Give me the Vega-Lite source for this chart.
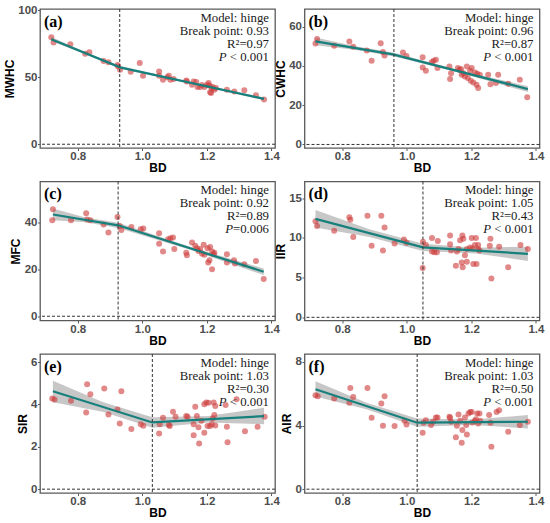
{
  "$schema": "https://vega.github.io/schema/vega-lite/v6.json",
  "background": "white",
  "padding": {"left": 2, "top": 3, "right": 3, "bottom": 0},
  "datasets": {
    "pts": [
      {"p":"a","BD":0.718,"v":79.8},{"p":"a","BD":0.725,"v":75.8},{"p":"a","BD":0.777,"v":74.6},{"p":"a","BD":0.823,"v":67.4},{"p":"a","BD":0.836,"v":68.6},{"p":"a","BD":0.880,"v":62},{"p":"a","BD":0.895,"v":61.2},{"p":"a","BD":0.923,"v":59},{"p":"a","BD":0.925,"v":58},{"p":"a","BD":0.931,"v":55.6},{"p":"a","BD":0.964,"v":54},{"p":"a","BD":0.992,"v":60.5},{"p":"a","BD":1.002,"v":51},{"p":"a","BD":1.052,"v":54.3},{"p":"a","BD":1.052,"v":51},{"p":"a","BD":1.064,"v":48},{"p":"a","BD":1.077,"v":50},{"p":"a","BD":1.082,"v":51},{"p":"a","BD":1.087,"v":48},{"p":"a","BD":1.097,"v":48.6},{"p":"a","BD":1.136,"v":47.6},{"p":"a","BD":1.138,"v":46.7},{"p":"a","BD":1.154,"v":44.4},{"p":"a","BD":1.159,"v":46.7},{"p":"a","BD":1.167,"v":46.4},{"p":"a","BD":1.171,"v":42.7},{"p":"a","BD":1.179,"v":42.7},{"p":"a","BD":1.185,"v":44.2},{"p":"a","BD":1.192,"v":42.7},{"p":"a","BD":1.2,"v":44.2},{"p":"a","BD":1.205,"v":45.7},{"p":"a","BD":1.208,"v":43.7},{"p":"a","BD":1.21,"v":38.8},{"p":"a","BD":1.213,"v":38.2},{"p":"a","BD":1.215,"v":41.7},{"p":"a","BD":1.218,"v":42.7},{"p":"a","BD":1.223,"v":40.7},{"p":"a","BD":1.228,"v":42},{"p":"a","BD":1.262,"v":40.7},{"p":"a","BD":1.285,"v":39.3},{"p":"a","BD":1.316,"v":40.2},{"p":"a","BD":1.352,"v":36.5},{"p":"a","BD":1.377,"v":33.3},
      {"p":"b","BD":0.717,"v":51.4},{"p":"b","BD":0.722,"v":53.7},{"p":"b","BD":0.775,"v":50.3},{"p":"b","BD":0.822,"v":52.5},{"p":"b","BD":0.834,"v":49.8},{"p":"b","BD":0.876,"v":47.8},{"p":"b","BD":0.891,"v":42.7},{"p":"b","BD":0.919,"v":51.5},{"p":"b","BD":0.926,"v":47.1},{"p":"b","BD":0.931,"v":45.3},{"p":"b","BD":0.988,"v":46.8},{"p":"b","BD":0.999,"v":45.1},{"p":"b","BD":1.049,"v":44.4},{"p":"b","BD":1.049,"v":39.2},{"p":"b","BD":1.059,"v":37.5},{"p":"b","BD":1.077,"v":41.9},{"p":"b","BD":1.083,"v":42.6},{"p":"b","BD":1.09,"v":43.1},{"p":"b","BD":1.095,"v":38.9},{"p":"b","BD":1.132,"v":39.7},{"p":"b","BD":1.134,"v":33.4},{"p":"b","BD":1.137,"v":36.3},{"p":"b","BD":1.158,"v":38.9},{"p":"b","BD":1.163,"v":38},{"p":"b","BD":1.168,"v":38.5},{"p":"b","BD":1.17,"v":35.5},{"p":"b","BD":1.175,"v":36.3},{"p":"b","BD":1.18,"v":34.6},{"p":"b","BD":1.186,"v":39.7},{"p":"b","BD":1.189,"v":33.8},{"p":"b","BD":1.196,"v":37.5},{"p":"b","BD":1.201,"v":38.9},{"p":"b","BD":1.198,"v":32.4},{"p":"b","BD":1.206,"v":31.6},{"p":"b","BD":1.211,"v":36.7},{"p":"b","BD":1.216,"v":30.4},{"p":"b","BD":1.218,"v":36},{"p":"b","BD":1.221,"v":28.7},{"p":"b","BD":1.226,"v":35.5},{"p":"b","BD":1.252,"v":35.5},{"p":"b","BD":1.259,"v":30.7},{"p":"b","BD":1.276,"v":31.3},{"p":"b","BD":1.283,"v":35.5},{"p":"b","BD":1.314,"v":30.9},{"p":"b","BD":1.35,"v":32.9},{"p":"b","BD":1.373,"v":24},
      {"p":"c","BD":0.723,"v":45.4},{"p":"c","BD":0.721,"v":40.8},{"p":"c","BD":0.779,"v":40.8},{"p":"c","BD":0.826,"v":43.7},{"p":"c","BD":0.829,"v":41.1},{"p":"c","BD":0.839,"v":40.8},{"p":"c","BD":0.88,"v":39},{"p":"c","BD":0.895,"v":35.5},{"p":"c","BD":0.923,"v":42.1},{"p":"c","BD":0.93,"v":38.3},{"p":"c","BD":0.935,"v":36.6},{"p":"c","BD":0.966,"v":37.9},{"p":"c","BD":0.995,"v":36.9},{"p":"c","BD":1.003,"v":37.2},{"p":"c","BD":1.052,"v":35.2},{"p":"c","BD":1.052,"v":30.8},{"p":"c","BD":1.064,"v":27.5},{"p":"c","BD":1.08,"v":32.7},{"p":"c","BD":1.087,"v":33.1},{"p":"c","BD":1.095,"v":33.4},{"p":"c","BD":1.099,"v":28.5},{"p":"c","BD":1.136,"v":27},{"p":"c","BD":1.138,"v":25.9},{"p":"c","BD":1.154,"v":31.3},{"p":"c","BD":1.164,"v":29.9},{"p":"c","BD":1.169,"v":28.9},{"p":"c","BD":1.174,"v":27.7},{"p":"c","BD":1.179,"v":28.5},{"p":"c","BD":1.185,"v":26.6},{"p":"c","BD":1.19,"v":30.3},{"p":"c","BD":1.192,"v":26.1},{"p":"c","BD":1.202,"v":28.9},{"p":"c","BD":1.204,"v":22.8},{"p":"c","BD":1.208,"v":23.8},{"p":"c","BD":1.21,"v":29.4},{"p":"c","BD":1.216,"v":27.5},{"p":"c","BD":1.221,"v":26.3},{"p":"c","BD":1.216,"v":20},{"p":"c","BD":1.223,"v":27},{"p":"c","BD":1.262,"v":26.3},{"p":"c","BD":1.262,"v":22.8},{"p":"c","BD":1.284,"v":23.8},{"p":"c","BD":1.287,"v":22.4},{"p":"c","BD":1.316,"v":22.1},{"p":"c","BD":1.352,"v":23.5},{"p":"c","BD":1.376,"v":15.8},
      {"p":"d","BD":0.717,"v":12.1},{"p":"d","BD":0.722,"v":11.5},{"p":"d","BD":0.775,"v":10.9},{"p":"d","BD":0.822,"v":12.6},{"p":"d","BD":0.825,"v":12.3},{"p":"d","BD":0.834,"v":10.1},{"p":"d","BD":0.878,"v":12.8},{"p":"d","BD":0.891,"v":9},{"p":"d","BD":0.921,"v":12.8},{"p":"d","BD":0.926,"v":8.4},{"p":"d","BD":0.931,"v":11.3},{"p":"d","BD":0.962,"v":9.3},{"p":"d","BD":0.991,"v":9.8},{"p":"d","BD":0.999,"v":9.4},{"p":"d","BD":1.049,"v":6.2},{"p":"d","BD":1.05,"v":9.5},{"p":"d","BD":1.059,"v":9.1},{"p":"d","BD":1.078,"v":10},{"p":"d","BD":1.078,"v":8.3},{"p":"d","BD":1.085,"v":8.2},{"p":"d","BD":1.093,"v":8.2},{"p":"d","BD":1.096,"v":9.6},{"p":"d","BD":1.134,"v":10.3},{"p":"d","BD":1.134,"v":9.2},{"p":"d","BD":1.137,"v":8.4},{"p":"d","BD":1.152,"v":6.5},{"p":"d","BD":1.155,"v":8.3},{"p":"d","BD":1.16,"v":8.6},{"p":"d","BD":1.165,"v":9.7},{"p":"d","BD":1.172,"v":10.3},{"p":"d","BD":1.17,"v":6.9},{"p":"d","BD":1.173,"v":6.3},{"p":"d","BD":1.175,"v":9.9},{"p":"d","BD":1.18,"v":7.8},{"p":"d","BD":1.186,"v":7},{"p":"d","BD":1.186,"v":8.6},{"p":"d","BD":1.196,"v":8.8},{"p":"d","BD":1.201,"v":10},{"p":"d","BD":1.203,"v":8.7},{"p":"d","BD":1.206,"v":6.7},{"p":"d","BD":1.211,"v":9.1},{"p":"d","BD":1.214,"v":10},{"p":"d","BD":1.216,"v":6.7},{"p":"d","BD":1.221,"v":8.6},{"p":"d","BD":1.221,"v":9.1},{"p":"d","BD":1.225,"v":8.4},{"p":"d","BD":1.257,"v":9},{"p":"d","BD":1.259,"v":9.9},{"p":"d","BD":1.262,"v":4.9},{"p":"d","BD":1.286,"v":8.9},{"p":"d","BD":1.314,"v":6.3},{"p":"d","BD":1.352,"v":9.1},{"p":"d","BD":1.375,"v":8.6},
      {"p":"e","BD":0.721,"v":4.28},{"p":"e","BD":0.728,"v":4.23},{"p":"e","BD":0.779,"v":4.17},{"p":"e","BD":0.826,"v":3.62},{"p":"e","BD":0.829,"v":4.95},{"p":"e","BD":0.839,"v":4.48},{"p":"e","BD":0.882,"v":4.75},{"p":"e","BD":0.895,"v":3.53},{"p":"e","BD":0.923,"v":3.76},{"p":"e","BD":0.93,"v":3.1},{"p":"e","BD":0.935,"v":4.62},{"p":"e","BD":0.966,"v":2.84},{"p":"e","BD":0.995,"v":3.07},{"p":"e","BD":1.003,"v":2.99},{"p":"e","BD":1.052,"v":2.63},{"p":"e","BD":1.054,"v":3.06},{"p":"e","BD":1.064,"v":3.37},{"p":"e","BD":1.082,"v":3.03},{"p":"e","BD":1.085,"v":2.98},{"p":"e","BD":1.095,"v":3.65},{"p":"e","BD":1.103,"v":3.42},{"p":"e","BD":1.136,"v":3.45},{"p":"e","BD":1.14,"v":3.42},{"p":"e","BD":1.159,"v":3.06},{"p":"e","BD":1.159,"v":2.55},{"p":"e","BD":1.164,"v":3.89},{"p":"e","BD":1.169,"v":3.45},{"p":"e","BD":1.174,"v":2.92},{"p":"e","BD":1.176,"v":2.16},{"p":"e","BD":1.183,"v":3.23},{"p":"e","BD":1.192,"v":2.66},{"p":"e","BD":1.192,"v":4.01},{"p":"e","BD":1.198,"v":4.09},{"p":"e","BD":1.205,"v":4.08},{"p":"e","BD":1.202,"v":2.98},{"p":"e","BD":1.21,"v":2.98},{"p":"e","BD":1.215,"v":3.07},{"p":"e","BD":1.218,"v":3.34},{"p":"e","BD":1.221,"v":4.09},{"p":"e","BD":1.226,"v":3.93},{"p":"e","BD":1.223,"v":3.5},{"p":"e","BD":1.226,"v":3},{"p":"e","BD":1.258,"v":3.97},{"p":"e","BD":1.262,"v":2.95},{"p":"e","BD":1.264,"v":2.21},{"p":"e","BD":1.292,"v":4.25},{"p":"e","BD":1.318,"v":2.74},{"p":"e","BD":1.357,"v":2.95},{"p":"e","BD":1.379,"v":3.42},
      {"p":"f","BD":0.717,"v":5.91},{"p":"f","BD":0.724,"v":5.85},{"p":"f","BD":0.775,"v":5.7},{"p":"f","BD":0.822,"v":5.43},{"p":"f","BD":0.825,"v":6.37},{"p":"f","BD":0.834,"v":5.8},{"p":"f","BD":0.878,"v":6.37},{"p":"f","BD":0.891,"v":4.49},{"p":"f","BD":0.921,"v":5.39},{"p":"f","BD":0.926,"v":3.99},{"p":"f","BD":0.931,"v":5.85},{"p":"f","BD":0.962,"v":3.97},{"p":"f","BD":0.993,"v":4.3},{"p":"f","BD":0.999,"v":4.07},{"p":"f","BD":1.049,"v":3.55},{"p":"f","BD":1.052,"v":4.18},{"p":"f","BD":1.059,"v":4.34},{"p":"f","BD":1.075,"v":4.03},{"p":"f","BD":1.081,"v":4.24},{"p":"f","BD":1.09,"v":4.51},{"p":"f","BD":1.095,"v":4.51},{"p":"f","BD":1.132,"v":4.55},{"p":"f","BD":1.134,"v":4.49},{"p":"f","BD":1.137,"v":4.24},{"p":"f","BD":1.152,"v":3.26},{"p":"f","BD":1.155,"v":3.99},{"p":"f","BD":1.16,"v":4.7},{"p":"f","BD":1.165,"v":4.3},{"p":"f","BD":1.17,"v":2.92},{"p":"f","BD":1.172,"v":3.72},{"p":"f","BD":1.18,"v":4.51},{"p":"f","BD":1.184,"v":4.03},{"p":"f","BD":1.186,"v":3.44},{"p":"f","BD":1.191,"v":4.76},{"p":"f","BD":1.196,"v":4.86},{"p":"f","BD":1.201,"v":4.86},{"p":"f","BD":1.203,"v":4.2},{"p":"f","BD":1.211,"v":4.3},{"p":"f","BD":1.214,"v":4.4},{"p":"f","BD":1.218,"v":4.76},{"p":"f","BD":1.221,"v":4.13},{"p":"f","BD":1.225,"v":4.76},{"p":"f","BD":1.227,"v":4.3},{"p":"f","BD":1.255,"v":4.66},{"p":"f","BD":1.259,"v":4.18},{"p":"f","BD":1.262,"v":2.67},{"p":"f","BD":1.278,"v":4.86},{"p":"f","BD":1.286,"v":4.97},{"p":"f","BD":1.314,"v":3.61},{"p":"f","BD":1.35,"v":4.03},{"p":"f","BD":1.375,"v":4.24}
    ],
    "fit": [
      {"p":"a","BD":0.718,"v":78.3},{"p":"a","BD":0.931,"v":57.3},{"p":"a","BD":1.377,"v":33.8},
      {"p":"b","BD":0.717,"v":52.5},{"p":"b","BD":0.957,"v":45.9},{"p":"b","BD":1.375,"v":28.2},
      {"p":"c","BD":0.723,"v":43.2},{"p":"c","BD":0.925,"v":38.6},{"p":"c","BD":1.376,"v":18.9},
      {"p":"d","BD":0.717,"v":12.4},{"p":"d","BD":1.05,"v":8.8},{"p":"d","BD":1.375,"v":8.0},
      {"p":"e","BD":0.723,"v":4.62},{"p":"e","BD":1.031,"v":3.15},{"p":"e","BD":1.377,"v":3.45},
      {"p":"f","BD":0.717,"v":6.28},{"p":"f","BD":1.032,"v":4.18},{"p":"f","BD":1.375,"v":4.24}
    ],
    "band": [
      {"p":"a","BD":0.718,"lo":76.7,"hi":79.9},{"p":"a","BD":0.825,"lo":67.0,"hi":68.5},{"p":"a","BD":0.931,"lo":56.3,"hi":58.3},{"p":"a","BD":1.154,"lo":45.0,"hi":46.1},{"p":"a","BD":1.377,"lo":32.8,"hi":34.8},
      {"p":"b","BD":0.717,"lo":50.5,"hi":54.5},{"p":"b","BD":0.837,"lo":48.3,"hi":50.1},{"p":"b","BD":0.957,"lo":44.9,"hi":46.9},{"p":"b","BD":1.166,"lo":36.45,"hi":37.65},{"p":"b","BD":1.375,"lo":26.7,"hi":29.7},
      {"p":"c","BD":0.723,"lo":40.7,"hi":45.7},{"p":"c","BD":0.824,"lo":39.9,"hi":41.9},{"p":"c","BD":0.925,"lo":37.5,"hi":39.7},{"p":"c","BD":1.15,"lo":28.15,"hi":29.35},{"p":"c","BD":1.376,"lo":17.5,"hi":20.3},
      {"p":"d","BD":0.717,"lo":11.3,"hi":13.5},{"p":"d","BD":0.884,"lo":10.1,"hi":11.1},{"p":"d","BD":1.05,"lo":8.35,"hi":9.25},{"p":"d","BD":1.213,"lo":8.05,"hi":8.75},{"p":"d","BD":1.375,"lo":7.1,"hi":8.9},
      {"p":"e","BD":0.723,"lo":4.1,"hi":5.12},{"p":"e","BD":0.877,"lo":3.65,"hi":4.12},{"p":"e","BD":1.031,"lo":2.9,"hi":3.4},{"p":"e","BD":1.204,"lo":3.15,"hi":3.45},{"p":"e","BD":1.377,"lo":3.07,"hi":3.84},
      {"p":"f","BD":0.717,"lo":5.83,"hi":6.78},{"p":"f","BD":0.875,"lo":5.03,"hi":5.43},{"p":"f","BD":1.032,"lo":3.93,"hi":4.45},{"p":"f","BD":1.204,"lo":4.04,"hi":4.38},{"p":"f","BD":1.375,"lo":3.82,"hi":4.66}
    ],
    "ann": [
      {"p":"a","tag":"(a)","bp":0.93,"l1":"Model: hinge","l2":"Break point: 0.93","l3":"R²=0.97","pv":" < 0.001"},
      {"p":"b","tag":"(b)","bp":0.96,"l1":"Model: hinge","l2":"Break point: 0.96","l3":"R²=0.87","pv":" < 0.001"},
      {"p":"c","tag":"(c)","bp":0.925,"l1":"Model: hinge","l2":"Break point: 0.92","l3":"R²=0.89","pv":"=0.006"},
      {"p":"d","tag":"(d)","bp":1.05,"l1":"Model: hinge","l2":"Break point: 1.05","l3":"R²=0.43","pv":" < 0.001"},
      {"p":"e","tag":"(e)","bp":1.031,"l1":"Model: hinge","l2":"Break point: 1.03","l3":"R²=0.30","pv":" < 0.001"},
      {"p":"f","tag":"(f)","bp":1.032,"l1":"Model: hinge","l2":"Break point: 1.03","l3":"R²=0.50","pv":" < 0.001"}
    ]
  },
  "columns": 2,
  "spacing": {"row": 33.5, "column": 29.5},
  "bounds": "flush",
  "concat": [
    {
      "width": 235, "height": 139,
      "layer": [
        {"data": {"name": "band"}, "transform": [{"filter": "datum.p === 'a'"}],
         "mark": {"type": "area", "color": "#999999", "opacity": 0.55},
         "encoding": {
           "x": {"field": "BD", "type": "quantitative", "scale": {"domain": [0.683, 1.411], "nice": false, "zero": false}, "axis": {"title": "BD", "values": [0.8, 1.0, 1.2, 1.4], "format": ".1f"}},
           "y": {"field": "lo", "type": "quantitative", "scale": {"domain": [-2.8, 100.8], "nice": false, "zero": false}, "axis": {"title": "MWHC", "values": [0, 25, 50, 75, 100]}},
           "y2": {"field": "hi"}}},
        {"data": {"name": "pts"}, "transform": [{"filter": "datum.p === 'a'"}],
         "mark": {"type": "circle", "size": 36, "color": "#cd3a3a", "opacity": 0.6},
         "encoding": {"x": {"field": "BD", "type": "quantitative"}, "y": {"field": "v", "type": "quantitative"}}},
        {"data": {"name": "fit"}, "transform": [{"filter": "datum.p === 'a'"}],
         "mark": {"type": "line", "color": "#18807c", "strokeWidth": 2.2},
         "encoding": {"x": {"field": "BD", "type": "quantitative"}, "y": {"field": "v", "type": "quantitative"}}},
        {"data": {"name": "ann"}, "transform": [{"filter": "datum.p === 'a'"}],
         "mark": {"type": "rule", "color": "#333333", "strokeWidth": 1, "strokeDash": [3, 2]},
         "encoding": {"x": {"field": "bp", "type": "quantitative"}}},
        {"data": {"name": "ann"}, "transform": [{"filter": "datum.p === 'a'"}],
         "mark": {"type": "rule", "color": "#333333", "strokeWidth": 1, "strokeDash": [3, 2]},
         "encoding": {"y": {"datum": 0}}},
        {"data": {"name": "ann"}, "transform": [{"filter": "datum.p === 'a'"}],
         "mark": {"type": "text", "font": "Liberation Serif", "fontWeight": "bold", "fontSize": 16, "align": "left", "baseline": "alphabetic", "dx": 4, "dy": 17.5, "color": "#000000"},
         "encoding": {"x": {"datum": 0.683}, "y": {"datum": 100.8}, "text": {"field": "tag"}}},
        {"data": {"name": "ann"}, "transform": [{"filter": "datum.p === 'a'"}],
         "mark": {"type": "text", "font": "Liberation Serif", "fontSize": 12.8, "align": "right", "baseline": "alphabetic", "dx": -6, "dy": 12.5, "color": "#1a1a1a"},
         "encoding": {"x": {"datum": 1.411}, "y": {"datum": 100.8}, "text": {"field": "l1"}}},
        {"data": {"name": "ann"}, "transform": [{"filter": "datum.p === 'a'"}],
         "mark": {"type": "text", "font": "Liberation Serif", "fontSize": 12.8, "align": "right", "baseline": "alphabetic", "dx": -6, "dy": 25.6, "color": "#1a1a1a"},
         "encoding": {"x": {"datum": 1.411}, "y": {"datum": 100.8}, "text": {"field": "l2"}}},
        {"data": {"name": "ann"}, "transform": [{"filter": "datum.p === 'a'"}],
         "mark": {"type": "text", "font": "Liberation Serif", "fontSize": 12.8, "align": "right", "baseline": "alphabetic", "dx": -6, "dy": 38.7, "color": "#1a1a1a"},
         "encoding": {"x": {"datum": 1.411}, "y": {"datum": 100.8}, "text": {"field": "l3"}}},
        {"data": {"name": "ann"}, "transform": [{"filter": "datum.p === 'a'"}],
         "mark": {"type": "text", "font": "Liberation Serif", "fontSize": 12.8, "align": "right", "baseline": "alphabetic", "dx": -6, "dy": 51.8, "color": "#1a1a1a"},
         "encoding": {"x": {"datum": 1.411}, "y": {"datum": 100.8}, "text": {"field": "pv"}}},
        {"data": {"name": "ann"}, "transform": [{"filter": "datum.p === 'a'"}],
         "mark": {"type": "text", "font": "Liberation Serif", "fontStyle": "italic", "fontSize": 12.8, "align": "right", "baseline": "alphabetic", "dx": -48.4, "dy": 51.8, "color": "#1a1a1a", "text": "P"},
         "encoding": {"x": {"datum": 1.411}, "y": {"datum": 100.8}}}
      ]
    },
    {
      "width": 235, "height": 139,
      "layer": [
        {"data": {"name": "band"}, "transform": [{"filter": "datum.p === 'b'"}],
         "mark": {"type": "area", "color": "#999999", "opacity": 0.55},
         "encoding": {
           "x": {"field": "BD", "type": "quantitative", "scale": {"domain": [0.683, 1.411], "nice": false, "zero": false}, "axis": {"title": "BD", "values": [0.8, 1.0, 1.2, 1.4], "format": ".1f"}},
           "y": {"field": "lo", "type": "quantitative", "scale": {"domain": [-1.8, 69], "nice": false, "zero": false}, "axis": {"title": "CWHC", "values": [0, 20, 40, 60]}},
           "y2": {"field": "hi"}}},
        {"data": {"name": "pts"}, "transform": [{"filter": "datum.p === 'b'"}],
         "mark": {"type": "circle", "size": 36, "color": "#cd3a3a", "opacity": 0.6},
         "encoding": {"x": {"field": "BD", "type": "quantitative"}, "y": {"field": "v", "type": "quantitative"}}},
        {"data": {"name": "fit"}, "transform": [{"filter": "datum.p === 'b'"}],
         "mark": {"type": "line", "color": "#18807c", "strokeWidth": 2.2},
         "encoding": {"x": {"field": "BD", "type": "quantitative"}, "y": {"field": "v", "type": "quantitative"}}},
        {"data": {"name": "ann"}, "transform": [{"filter": "datum.p === 'b'"}],
         "mark": {"type": "rule", "color": "#333333", "strokeWidth": 1, "strokeDash": [3, 2]},
         "encoding": {"x": {"field": "bp", "type": "quantitative"}}},
        {"data": {"name": "ann"}, "transform": [{"filter": "datum.p === 'b'"}],
         "mark": {"type": "rule", "color": "#333333", "strokeWidth": 1, "strokeDash": [3, 2]},
         "encoding": {"y": {"datum": 0}}},
        {"data": {"name": "ann"}, "transform": [{"filter": "datum.p === 'b'"}],
         "mark": {"type": "text", "font": "Liberation Serif", "fontWeight": "bold", "fontSize": 16, "align": "left", "baseline": "alphabetic", "dx": 4, "dy": 17.5, "color": "#000000"},
         "encoding": {"x": {"datum": 0.683}, "y": {"datum": 69}, "text": {"field": "tag"}}},
        {"data": {"name": "ann"}, "transform": [{"filter": "datum.p === 'b'"}],
         "mark": {"type": "text", "font": "Liberation Serif", "fontSize": 12.8, "align": "right", "baseline": "alphabetic", "dx": -6, "dy": 12.5, "color": "#1a1a1a"},
         "encoding": {"x": {"datum": 1.411}, "y": {"datum": 69}, "text": {"field": "l1"}}},
        {"data": {"name": "ann"}, "transform": [{"filter": "datum.p === 'b'"}],
         "mark": {"type": "text", "font": "Liberation Serif", "fontSize": 12.8, "align": "right", "baseline": "alphabetic", "dx": -6, "dy": 25.6, "color": "#1a1a1a"},
         "encoding": {"x": {"datum": 1.411}, "y": {"datum": 69}, "text": {"field": "l2"}}},
        {"data": {"name": "ann"}, "transform": [{"filter": "datum.p === 'b'"}],
         "mark": {"type": "text", "font": "Liberation Serif", "fontSize": 12.8, "align": "right", "baseline": "alphabetic", "dx": -6, "dy": 38.7, "color": "#1a1a1a"},
         "encoding": {"x": {"datum": 1.411}, "y": {"datum": 69}, "text": {"field": "l3"}}},
        {"data": {"name": "ann"}, "transform": [{"filter": "datum.p === 'b'"}],
         "mark": {"type": "text", "font": "Liberation Serif", "fontSize": 12.8, "align": "right", "baseline": "alphabetic", "dx": -6, "dy": 51.8, "color": "#1a1a1a"},
         "encoding": {"x": {"datum": 1.411}, "y": {"datum": 69}, "text": {"field": "pv"}}},
        {"data": {"name": "ann"}, "transform": [{"filter": "datum.p === 'b'"}],
         "mark": {"type": "text", "font": "Liberation Serif", "fontStyle": "italic", "fontSize": 12.8, "align": "right", "baseline": "alphabetic", "dx": -48.4, "dy": 51.8, "color": "#1a1a1a", "text": "P"},
         "encoding": {"x": {"datum": 1.411}, "y": {"datum": 69}}}
      ]
    },
    {
      "width": 235, "height": 139,
      "layer": [
        {"data": {"name": "band"}, "transform": [{"filter": "datum.p === 'c'"}],
         "mark": {"type": "area", "color": "#999999", "opacity": 0.55},
         "encoding": {
           "x": {"field": "BD", "type": "quantitative", "scale": {"domain": [0.683, 1.411], "nice": false, "zero": false}, "axis": {"title": "BD", "values": [0.8, 1.0, 1.2, 1.4], "format": ".1f"}},
           "y": {"field": "lo", "type": "quantitative", "scale": {"domain": [-1.8, 57.2], "nice": false, "zero": false}, "axis": {"title": "MFC", "values": [0, 20, 40]}},
           "y2": {"field": "hi"}}},
        {"data": {"name": "pts"}, "transform": [{"filter": "datum.p === 'c'"}],
         "mark": {"type": "circle", "size": 36, "color": "#cd3a3a", "opacity": 0.6},
         "encoding": {"x": {"field": "BD", "type": "quantitative"}, "y": {"field": "v", "type": "quantitative"}}},
        {"data": {"name": "fit"}, "transform": [{"filter": "datum.p === 'c'"}],
         "mark": {"type": "line", "color": "#18807c", "strokeWidth": 2.2},
         "encoding": {"x": {"field": "BD", "type": "quantitative"}, "y": {"field": "v", "type": "quantitative"}}},
        {"data": {"name": "ann"}, "transform": [{"filter": "datum.p === 'c'"}],
         "mark": {"type": "rule", "color": "#333333", "strokeWidth": 1, "strokeDash": [3, 2]},
         "encoding": {"x": {"field": "bp", "type": "quantitative"}}},
        {"data": {"name": "ann"}, "transform": [{"filter": "datum.p === 'c'"}],
         "mark": {"type": "rule", "color": "#333333", "strokeWidth": 1, "strokeDash": [3, 2]},
         "encoding": {"y": {"datum": 0}}},
        {"data": {"name": "ann"}, "transform": [{"filter": "datum.p === 'c'"}],
         "mark": {"type": "text", "font": "Liberation Serif", "fontWeight": "bold", "fontSize": 16, "align": "left", "baseline": "alphabetic", "dx": 4, "dy": 17.5, "color": "#000000"},
         "encoding": {"x": {"datum": 0.683}, "y": {"datum": 57.2}, "text": {"field": "tag"}}},
        {"data": {"name": "ann"}, "transform": [{"filter": "datum.p === 'c'"}],
         "mark": {"type": "text", "font": "Liberation Serif", "fontSize": 12.8, "align": "right", "baseline": "alphabetic", "dx": -6, "dy": 12.5, "color": "#1a1a1a"},
         "encoding": {"x": {"datum": 1.411}, "y": {"datum": 57.2}, "text": {"field": "l1"}}},
        {"data": {"name": "ann"}, "transform": [{"filter": "datum.p === 'c'"}],
         "mark": {"type": "text", "font": "Liberation Serif", "fontSize": 12.8, "align": "right", "baseline": "alphabetic", "dx": -6, "dy": 25.6, "color": "#1a1a1a"},
         "encoding": {"x": {"datum": 1.411}, "y": {"datum": 57.2}, "text": {"field": "l2"}}},
        {"data": {"name": "ann"}, "transform": [{"filter": "datum.p === 'c'"}],
         "mark": {"type": "text", "font": "Liberation Serif", "fontSize": 12.8, "align": "right", "baseline": "alphabetic", "dx": -6, "dy": 38.7, "color": "#1a1a1a"},
         "encoding": {"x": {"datum": 1.411}, "y": {"datum": 57.2}, "text": {"field": "l3"}}},
        {"data": {"name": "ann"}, "transform": [{"filter": "datum.p === 'c'"}],
         "mark": {"type": "text", "font": "Liberation Serif", "fontSize": 12.8, "align": "right", "baseline": "alphabetic", "dx": -6, "dy": 51.8, "color": "#1a1a1a"},
         "encoding": {"x": {"datum": 1.411}, "y": {"datum": 57.2}, "text": {"field": "pv"}}},
        {"data": {"name": "ann"}, "transform": [{"filter": "datum.p === 'c'"}],
         "mark": {"type": "text", "font": "Liberation Serif", "fontStyle": "italic", "fontSize": 12.8, "align": "right", "baseline": "alphabetic", "dx": -42, "dy": 51.8, "color": "#1a1a1a", "text": "P"},
         "encoding": {"x": {"datum": 1.411}, "y": {"datum": 57.2}}}
      ]
    },
    {
      "width": 235, "height": 139,
      "layer": [
        {"data": {"name": "band"}, "transform": [{"filter": "datum.p === 'd'"}],
         "mark": {"type": "area", "color": "#999999", "opacity": 0.55},
         "encoding": {
           "x": {"field": "BD", "type": "quantitative", "scale": {"domain": [0.683, 1.411], "nice": false, "zero": false}, "axis": {"title": "BD", "values": [0.8, 1.0, 1.2, 1.4], "format": ".1f"}},
           "y": {"field": "lo", "type": "quantitative", "scale": {"domain": [-0.4, 17.1], "nice": false, "zero": false}, "axis": {"title": "IIR", "values": [0, 5, 10, 15]}},
           "y2": {"field": "hi"}}},
        {"data": {"name": "pts"}, "transform": [{"filter": "datum.p === 'd'"}],
         "mark": {"type": "circle", "size": 36, "color": "#cd3a3a", "opacity": 0.6},
         "encoding": {"x": {"field": "BD", "type": "quantitative"}, "y": {"field": "v", "type": "quantitative"}}},
        {"data": {"name": "fit"}, "transform": [{"filter": "datum.p === 'd'"}],
         "mark": {"type": "line", "color": "#18807c", "strokeWidth": 2.2},
         "encoding": {"x": {"field": "BD", "type": "quantitative"}, "y": {"field": "v", "type": "quantitative"}}},
        {"data": {"name": "ann"}, "transform": [{"filter": "datum.p === 'd'"}],
         "mark": {"type": "rule", "color": "#333333", "strokeWidth": 1, "strokeDash": [3, 2]},
         "encoding": {"x": {"field": "bp", "type": "quantitative"}}},
        {"data": {"name": "ann"}, "transform": [{"filter": "datum.p === 'd'"}],
         "mark": {"type": "rule", "color": "#333333", "strokeWidth": 1, "strokeDash": [3, 2]},
         "encoding": {"y": {"datum": 0}}},
        {"data": {"name": "ann"}, "transform": [{"filter": "datum.p === 'd'"}],
         "mark": {"type": "text", "font": "Liberation Serif", "fontWeight": "bold", "fontSize": 16, "align": "left", "baseline": "alphabetic", "dx": 4, "dy": 17.5, "color": "#000000"},
         "encoding": {"x": {"datum": 0.683}, "y": {"datum": 17.1}, "text": {"field": "tag"}}},
        {"data": {"name": "ann"}, "transform": [{"filter": "datum.p === 'd'"}],
         "mark": {"type": "text", "font": "Liberation Serif", "fontSize": 12.8, "align": "right", "baseline": "alphabetic", "dx": -6, "dy": 12.5, "color": "#1a1a1a"},
         "encoding": {"x": {"datum": 1.411}, "y": {"datum": 17.1}, "text": {"field": "l1"}}},
        {"data": {"name": "ann"}, "transform": [{"filter": "datum.p === 'd'"}],
         "mark": {"type": "text", "font": "Liberation Serif", "fontSize": 12.8, "align": "right", "baseline": "alphabetic", "dx": -6, "dy": 25.6, "color": "#1a1a1a"},
         "encoding": {"x": {"datum": 1.411}, "y": {"datum": 17.1}, "text": {"field": "l2"}}},
        {"data": {"name": "ann"}, "transform": [{"filter": "datum.p === 'd'"}],
         "mark": {"type": "text", "font": "Liberation Serif", "fontSize": 12.8, "align": "right", "baseline": "alphabetic", "dx": -6, "dy": 38.7, "color": "#1a1a1a"},
         "encoding": {"x": {"datum": 1.411}, "y": {"datum": 17.1}, "text": {"field": "l3"}}},
        {"data": {"name": "ann"}, "transform": [{"filter": "datum.p === 'd'"}],
         "mark": {"type": "text", "font": "Liberation Serif", "fontSize": 12.8, "align": "right", "baseline": "alphabetic", "dx": -6, "dy": 51.8, "color": "#1a1a1a"},
         "encoding": {"x": {"datum": 1.411}, "y": {"datum": 17.1}, "text": {"field": "pv"}}},
        {"data": {"name": "ann"}, "transform": [{"filter": "datum.p === 'd'"}],
         "mark": {"type": "text", "font": "Liberation Serif", "fontStyle": "italic", "fontSize": 12.8, "align": "right", "baseline": "alphabetic", "dx": -48.4, "dy": 51.8, "color": "#1a1a1a", "text": "P"},
         "encoding": {"x": {"datum": 1.411}, "y": {"datum": 17.1}}}
      ]
    },
    {
      "width": 235, "height": 139,
      "layer": [
        {"data": {"name": "band"}, "transform": [{"filter": "datum.p === 'e'"}],
         "mark": {"type": "area", "color": "#999999", "opacity": 0.55},
         "encoding": {
           "x": {"field": "BD", "type": "quantitative", "scale": {"domain": [0.683, 1.411], "nice": false, "zero": false}, "axis": {"title": "BD", "values": [0.8, 1.0, 1.2, 1.4], "format": ".1f"}},
           "y": {"field": "lo", "type": "quantitative", "scale": {"domain": [-0.18, 6.38], "nice": false, "zero": false}, "axis": {"title": "SIR", "values": [0, 2, 4, 6]}},
           "y2": {"field": "hi"}}},
        {"data": {"name": "pts"}, "transform": [{"filter": "datum.p === 'e'"}],
         "mark": {"type": "circle", "size": 36, "color": "#cd3a3a", "opacity": 0.6},
         "encoding": {"x": {"field": "BD", "type": "quantitative"}, "y": {"field": "v", "type": "quantitative"}}},
        {"data": {"name": "fit"}, "transform": [{"filter": "datum.p === 'e'"}],
         "mark": {"type": "line", "color": "#18807c", "strokeWidth": 2.2},
         "encoding": {"x": {"field": "BD", "type": "quantitative"}, "y": {"field": "v", "type": "quantitative"}}},
        {"data": {"name": "ann"}, "transform": [{"filter": "datum.p === 'e'"}],
         "mark": {"type": "rule", "color": "#333333", "strokeWidth": 1, "strokeDash": [3, 2]},
         "encoding": {"x": {"field": "bp", "type": "quantitative"}}},
        {"data": {"name": "ann"}, "transform": [{"filter": "datum.p === 'e'"}],
         "mark": {"type": "rule", "color": "#333333", "strokeWidth": 1, "strokeDash": [3, 2]},
         "encoding": {"y": {"datum": 0}}},
        {"data": {"name": "ann"}, "transform": [{"filter": "datum.p === 'e'"}],
         "mark": {"type": "text", "font": "Liberation Serif", "fontWeight": "bold", "fontSize": 16, "align": "left", "baseline": "alphabetic", "dx": 4, "dy": 17.5, "color": "#000000"},
         "encoding": {"x": {"datum": 0.683}, "y": {"datum": 6.38}, "text": {"field": "tag"}}},
        {"data": {"name": "ann"}, "transform": [{"filter": "datum.p === 'e'"}],
         "mark": {"type": "text", "font": "Liberation Serif", "fontSize": 12.8, "align": "right", "baseline": "alphabetic", "dx": -6, "dy": 12.5, "color": "#1a1a1a"},
         "encoding": {"x": {"datum": 1.411}, "y": {"datum": 6.38}, "text": {"field": "l1"}}},
        {"data": {"name": "ann"}, "transform": [{"filter": "datum.p === 'e'"}],
         "mark": {"type": "text", "font": "Liberation Serif", "fontSize": 12.8, "align": "right", "baseline": "alphabetic", "dx": -6, "dy": 25.6, "color": "#1a1a1a"},
         "encoding": {"x": {"datum": 1.411}, "y": {"datum": 6.38}, "text": {"field": "l2"}}},
        {"data": {"name": "ann"}, "transform": [{"filter": "datum.p === 'e'"}],
         "mark": {"type": "text", "font": "Liberation Serif", "fontSize": 12.8, "align": "right", "baseline": "alphabetic", "dx": -6, "dy": 38.7, "color": "#1a1a1a"},
         "encoding": {"x": {"datum": 1.411}, "y": {"datum": 6.38}, "text": {"field": "l3"}}},
        {"data": {"name": "ann"}, "transform": [{"filter": "datum.p === 'e'"}],
         "mark": {"type": "text", "font": "Liberation Serif", "fontSize": 12.8, "align": "right", "baseline": "alphabetic", "dx": -6, "dy": 51.8, "color": "#1a1a1a"},
         "encoding": {"x": {"datum": 1.411}, "y": {"datum": 6.38}, "text": {"field": "pv"}}},
        {"data": {"name": "ann"}, "transform": [{"filter": "datum.p === 'e'"}],
         "mark": {"type": "text", "font": "Liberation Serif", "fontStyle": "italic", "fontSize": 12.8, "align": "right", "baseline": "alphabetic", "dx": -48.4, "dy": 51.8, "color": "#1a1a1a", "text": "P"},
         "encoding": {"x": {"datum": 1.411}, "y": {"datum": 6.38}}}
      ]
    },
    {
      "width": 235, "height": 139,
      "layer": [
        {"data": {"name": "band"}, "transform": [{"filter": "datum.p === 'f'"}],
         "mark": {"type": "area", "color": "#999999", "opacity": 0.55},
         "encoding": {
           "x": {"field": "BD", "type": "quantitative", "scale": {"domain": [0.683, 1.411], "nice": false, "zero": false}, "axis": {"title": "BD", "values": [0.8, 1.0, 1.2, 1.4], "format": ".1f"}},
           "y": {"field": "lo", "type": "quantitative", "scale": {"domain": [-0.24, 8.5], "nice": false, "zero": false}, "axis": {"title": "AIR", "values": [0, 2, 4, 6, 8]}},
           "y2": {"field": "hi"}}},
        {"data": {"name": "pts"}, "transform": [{"filter": "datum.p === 'f'"}],
         "mark": {"type": "circle", "size": 36, "color": "#cd3a3a", "opacity": 0.6},
         "encoding": {"x": {"field": "BD", "type": "quantitative"}, "y": {"field": "v", "type": "quantitative"}}},
        {"data": {"name": "fit"}, "transform": [{"filter": "datum.p === 'f'"}],
         "mark": {"type": "line", "color": "#18807c", "strokeWidth": 2.2},
         "encoding": {"x": {"field": "BD", "type": "quantitative"}, "y": {"field": "v", "type": "quantitative"}}},
        {"data": {"name": "ann"}, "transform": [{"filter": "datum.p === 'f'"}],
         "mark": {"type": "rule", "color": "#333333", "strokeWidth": 1, "strokeDash": [3, 2]},
         "encoding": {"x": {"field": "bp", "type": "quantitative"}}},
        {"data": {"name": "ann"}, "transform": [{"filter": "datum.p === 'f'"}],
         "mark": {"type": "rule", "color": "#333333", "strokeWidth": 1, "strokeDash": [3, 2]},
         "encoding": {"y": {"datum": 0}}},
        {"data": {"name": "ann"}, "transform": [{"filter": "datum.p === 'f'"}],
         "mark": {"type": "text", "font": "Liberation Serif", "fontWeight": "bold", "fontSize": 16, "align": "left", "baseline": "alphabetic", "dx": 4, "dy": 17.5, "color": "#000000"},
         "encoding": {"x": {"datum": 0.683}, "y": {"datum": 8.5}, "text": {"field": "tag"}}},
        {"data": {"name": "ann"}, "transform": [{"filter": "datum.p === 'f'"}],
         "mark": {"type": "text", "font": "Liberation Serif", "fontSize": 12.8, "align": "right", "baseline": "alphabetic", "dx": -6, "dy": 12.5, "color": "#1a1a1a"},
         "encoding": {"x": {"datum": 1.411}, "y": {"datum": 8.5}, "text": {"field": "l1"}}},
        {"data": {"name": "ann"}, "transform": [{"filter": "datum.p === 'f'"}],
         "mark": {"type": "text", "font": "Liberation Serif", "fontSize": 12.8, "align": "right", "baseline": "alphabetic", "dx": -6, "dy": 25.6, "color": "#1a1a1a"},
         "encoding": {"x": {"datum": 1.411}, "y": {"datum": 8.5}, "text": {"field": "l2"}}},
        {"data": {"name": "ann"}, "transform": [{"filter": "datum.p === 'f'"}],
         "mark": {"type": "text", "font": "Liberation Serif", "fontSize": 12.8, "align": "right", "baseline": "alphabetic", "dx": -6, "dy": 38.7, "color": "#1a1a1a"},
         "encoding": {"x": {"datum": 1.411}, "y": {"datum": 8.5}, "text": {"field": "l3"}}},
        {"data": {"name": "ann"}, "transform": [{"filter": "datum.p === 'f'"}],
         "mark": {"type": "text", "font": "Liberation Serif", "fontSize": 12.8, "align": "right", "baseline": "alphabetic", "dx": -6, "dy": 51.8, "color": "#1a1a1a"},
         "encoding": {"x": {"datum": 1.411}, "y": {"datum": 8.5}, "text": {"field": "pv"}}},
        {"data": {"name": "ann"}, "transform": [{"filter": "datum.p === 'f'"}],
         "mark": {"type": "text", "font": "Liberation Serif", "fontStyle": "italic", "fontSize": 12.8, "align": "right", "baseline": "alphabetic", "dx": -48.4, "dy": 51.8, "color": "#1a1a1a", "text": "P"},
         "encoding": {"x": {"datum": 1.411}, "y": {"datum": 8.5}}}
      ]
    }
  ],
  "config": {
    "view": {"stroke": "#5a5a5a", "strokeWidth": 1.3},
    "axis": {
      "grid": false, "domain": false,
      "tickColor": "#5a5a5a", "tickSize": 2.5, "tickWidth": 1,
      "labelFont": "Liberation Sans", "labelFontWeight": "bold", "labelFontSize": 11.5, "labelColor": "#4d4d4d", "labelPadding": 0.5,
      "titleFont": "Liberation Sans", "titleFontWeight": "bold", "titleFontSize": 12, "titleColor": "#000000", "titlePadding": 1.5
    },
    "axisX": {"labelFlush": false, "labelPadding": 0, "titlePadding": 0.5},
    "axisY": {"labelFlush": false}
  }
}
